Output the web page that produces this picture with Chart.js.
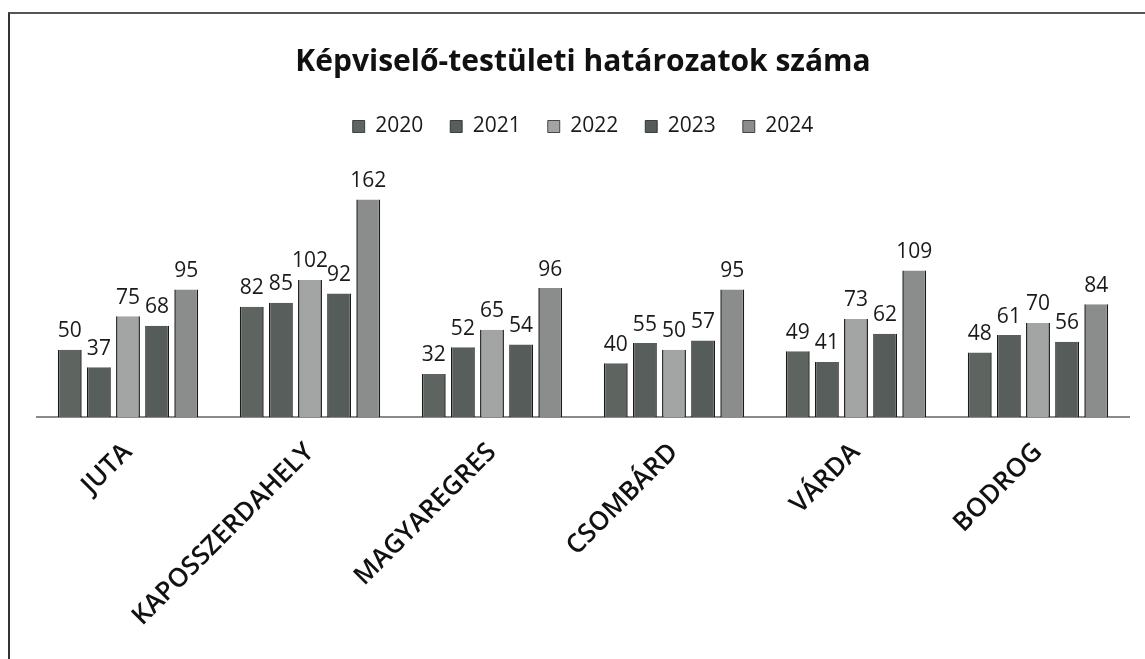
<!DOCTYPE html>
<html>
<head>
<meta charset="utf-8">
<script src="https://cdn.jsdelivr.net/npm/chart.js@4"></script>
<style>
  html, body { margin: 0; padding: 0; background: #fff; overflow: hidden; }
  #box {
    position: absolute; left: 8px; top: 12px; width: 1145px; height: 647px;
    border-left: 2px solid #333; border-top: 2px solid #555;
  }
</style>
</head>
<body>
<div id="box"><canvas id="chart" width="1143" height="645"></canvas></div>
<script>
// Settlements and yearly counts
const towns = ['JUTA', 'KAPOSSZERDAHELY', 'MAGYAREGRES', 'CSOMBÁRD', 'VÁRDA', 'BODROG'];
const years = ['2020', '2021', '2022', '2023', '2024'];
const v2020 = [50, 82, 32, 40, 49, 48];
const v2021 = [37, 85, 52, 55, 41, 61];
const v2022 = [75, 102, 65, 50, 73, 70];
const v2023 = [68, 92, 54, 57, 62, 56];
const v2024 = [95, 162, 96, 95, 109, 84];
const yearColors = ['#5e6460', '#585e5b', '#a3a5a4', '#565c59', '#8a8d8b'];

const FONT = '"Open Sans", "Noto Sans", sans-serif';

// draw the value above each bar
const valueLabels = {
  id: 'valueLabels',
  afterDatasetsDraw(chart) {
    const ctx = chart.ctx;
    ctx.save();
    ctx.font = '21px ' + FONT;
    ctx.fillStyle = '#1a1a1a';
    ctx.textAlign = 'center';
    ctx.textBaseline = 'bottom';
    chart.data.datasets.forEach((ds, i) => {
      chart.getDatasetMeta(i).data.forEach((bar, j) => {
        ctx.fillText(ds.data[j], bar.x, bar.y - 8);
      });
    });
    ctx.restore();
  }
};

const allSeries = [v2020, v2021, v2022, v2023, v2024];

new Chart(document.getElementById('chart'), {
  type: 'bar',
  data: {
    labels: towns,
    datasets: years.map((y, i) => ({
      label: y,
      data: allSeries[i],
      backgroundColor: yearColors[i],
      borderColor: '#1a1a1a',
      borderWidth: { left: 1.5, right: 1.5, top: 0, bottom: 0 },
      borderSkipped: 'bottom',
      categoryPercentage: 0.8,
      barPercentage: 0.82
    }))
  },
  options: {
    responsive: false,
    animation: false,
    layout: { padding: { left: 27, right: 24, top: 10, bottom: 0 } },
    plugins: {
      title: {
        display: true,
        text: 'Képviselő-testületi határozatok száma',
        color: '#111',
        font: { family: FONT, size: 30, weight: 'bold' },
        padding: { top: 20, bottom: 9 }
      },
      legend: {
        display: true,
        labels: {
          color: '#1a1a1a',
          font: { family: FONT, size: 21 },
          boxWidth: 12,
          boxHeight: 12,
          padding: 27
        }
      },
      tooltip: { enabled: false }
    },
    scales: {
      x: {
        grid: { display: false, drawTicks: false },
        border: { display: true, color: '#8a8a8a', width: 2 },
        ticks: {
          color: '#111',
          font: { family: FONT, size: 26, weight: '600' },
          minRotation: 45,
          maxRotation: 45,
          padding: 20,
          autoSkip: false
        },
        afterFit(scale) { scale.height = 242; }
      },
      y: {
        display: false,
        min: 0,
        max: 201
      }
    }
  },
  plugins: [valueLabels]
});
</script>
</body>
</html>
